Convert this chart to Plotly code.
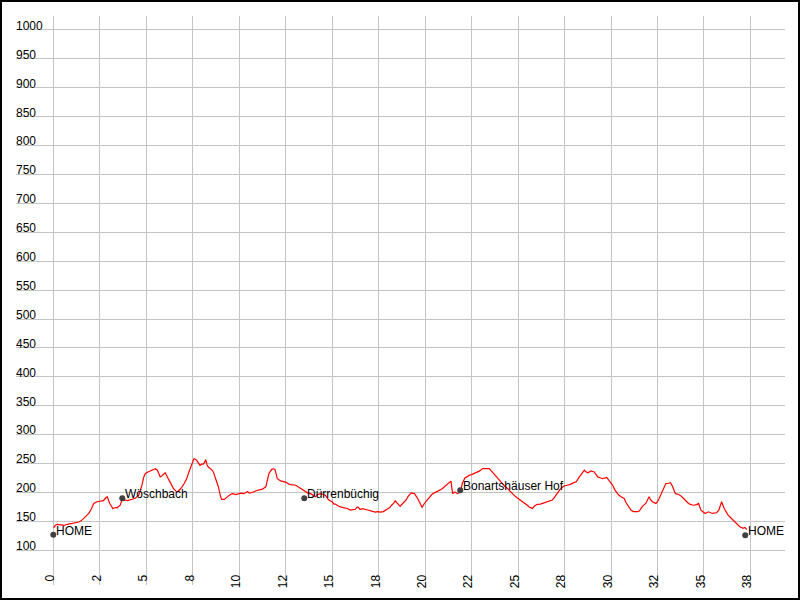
import plotly.graph_objects as go

# ---- data ----
dist_km = [0.0, 0.05, 0.1, 0.21, 0.4, 0.57, 0.75, 0.93, 1.15, 1.375, 1.5, 1.64, 1.8, 1.91, 2.05, 2.18, 2.35, 2.54, 2.7, 2.8,
           2.9, 3.04, 3.15, 3.21, 3.32, 3.43, 3.6, 3.7, 3.8, 3.88, 4.0, 4.14, 4.25, 4.41, 4.59, 4.68, 4.77, 4.86, 4.95, 5.07,
           5.2, 5.35, 5.48, 5.6, 5.75, 5.85, 6.02, 6.1, 6.25, 6.35, 6.46, 6.55, 6.64, 6.77, 6.9, 7.05, 7.18, 7.3, 7.45, 7.57,
           7.71, 7.8, 7.89, 7.98, 8.07, 8.15, 8.2, 8.27, 8.34, 8.5, 8.61, 8.75, 8.88, 9.0, 9.06, 9.2, 9.29, 9.46, 9.55, 9.64,
           9.82, 9.95, 10.09, 10.25, 10.45, 10.54, 10.7, 10.9, 11.1, 11.25, 11.43, 11.52, 11.6, 11.75, 11.85, 11.93, 12.05, 12.23, 12.37, 12.5,
           12.65, 12.77, 13.04, 13.2, 13.3, 13.45, 13.57, 13.7, 13.84, 14.0, 14.1, 14.2, 14.37, 14.5, 14.64, 14.75, 14.82, 15.0, 15.1, 15.18,
           15.3, 15.45, 15.6, 15.71, 15.85, 15.98, 16.1, 16.25, 16.32, 16.39, 16.5, 16.65, 16.8, 16.95, 17.05, 17.2, 17.32, 17.45, 17.59, 17.75,
           17.86, 18.0, 18.1, 18.2, 18.3, 18.39, 18.47, 18.54, 18.66, 18.71, 18.89, 19.0, 19.07, 19.25, 19.43, 19.55, 19.6, 19.75, 19.84, 19.96,
           20.1, 20.23, 20.35, 20.5, 20.77, 20.9, 21.04, 21.15, 21.3, 21.39, 21.48, 21.6, 21.75, 21.9, 22.0, 22.07, 22.14, 22.25, 22.38, 22.5,
           22.64, 22.8, 22.91, 23.0, 23.1, 23.3, 23.45, 23.6, 23.71, 23.9, 24.07, 24.25, 24.43, 24.6, 24.79, 24.95, 25.14, 25.3, 25.5, 25.6,
           25.77, 25.9, 26.04, 26.2, 26.3, 26.45, 26.57, 26.7, 26.84, 26.92, 27.02, 27.15, 27.25, 27.35, 27.46, 27.64, 27.82, 28.0, 28.13, 28.3,
           28.48, 28.57, 28.65, 28.75, 28.93, 29.1, 29.2, 29.29, 29.45, 29.55, 29.65, 29.77, 29.91, 30.09, 30.2, 30.27, 30.4, 30.54, 30.71, 30.8,
           30.89, 31.0, 31.07, 31.2, 31.3, 31.42, 31.52, 31.6, 31.7, 31.87, 31.95, 32.05, 32.12, 32.23, 32.41, 32.5, 32.59, 32.7, 32.77, 32.87,
           32.95, 33.1, 33.2, 33.32, 33.4, 33.46, 33.6, 33.73, 33.91, 34.05, 34.17, 34.3, 34.44, 34.6, 34.71, 34.78, 34.84, 35.06, 35.24, 35.45,
           35.68, 35.8, 35.95, 36.09, 36.2, 36.3, 36.48, 36.66, 36.8, 36.93, 37.05, 37.1, 37.2, 37.3]
elev_m = [140, 140, 143, 145, 144, 143, 145, 146, 147, 149, 151, 155, 160, 164, 172, 181, 184, 185, 186, 190,
          192.5, 181, 175, 172, 174, 173.5, 178, 188, 186, 187, 186, 187, 189, 190, 195, 203, 212.6, 226, 233, 235,
          237, 238, 241, 238.5, 227, 229, 234, 229, 221, 214, 207, 203, 201, 204, 208.6, 216, 224, 236, 250, 258.6,
          255.7, 250, 247, 249, 249, 253, 257, 248, 244, 240, 235.6, 222, 210, 192.5, 188, 188, 190.8, 195, 197, 198,
          196.5, 198, 199, 198, 201.7, 199, 200, 203, 204, 205.7, 209.8, 220, 232.8, 240, 241, 239.7, 224, 220, 219, 218,
          215, 213.7, 212.5, 209, 206.5, 203, 201, 199, 198, 195, 192.5, 196, 198, 197, 195, 190, 187, 184, 180, 180,
          177, 175, 174, 174, 172, 169.5, 170, 171, 174, 175, 170.6, 172, 170.6, 169, 168, 167, 166, 167, 166, 167,
          169.5, 172, 174, 178, 181, 185.6, 183, 181, 176, 178, 183.6, 188, 192.5, 199.4, 198, 193, 189.6, 180, 174, 181,
          187, 192.5, 196, 199.4, 203, 206, 209.8, 213, 218, 219.7, 198, 201, 198, 201, 215.5, 222, 225, 227, 230, 231,
          232.7, 235, 237, 239, 241.4, 241.5, 241.4, 236, 231.6, 225, 218, 212, 207, 201, 195, 191, 187, 183, 178, 175,
          172.5, 177, 179.5, 180, 181, 182, 184, 185, 187, 190, 195, 200, 205, 208, 211, 212.5, 214, 217, 218.4, 227,
          235.6, 238.5, 236, 234, 237.4, 235.6, 231, 227, 225, 224, 225, 226, 220, 212.6, 205, 201, 196, 192.5, 189.6, 183,
          178, 173, 169.5, 167, 166.6, 167, 168, 172, 176.4, 181, 186, 192.5, 188, 184, 181, 184, 189.6, 198, 204, 210,
          215.5, 216, 217, 209.8, 203, 198, 197, 195, 189.6, 185, 181, 179, 178, 179, 181, 175, 169.5, 163.8, 166.6, 163.8,
          165, 169.5, 183.9, 172.4, 166, 161, 155, 149.4, 145, 140.8, 139, 138, 139.6, 136]

poi_names = ["HOME", "Wöschbach", "Dürrenbüchig", "Bonartshäuser Hof", "HOME"]
poi_km = [0.0, 3.71, 13.5, 21.89, 37.22]
poi_elev = [127, 190, 190, 204, 126]

x_tick_vals = [0, 2.5, 5, 7.5, 10, 12.5, 15, 17.5, 20, 22.5, 25, 27.5, 30, 32.5, 35, 37.5]
x_tick_text = ["0", "2", "5", "8", "10", "12", "15", "18", "20", "22", "25", "28", "30", "32", "35", "38"]
y_tick_vals = list(range(100, 1001, 50))

FONT = "Liberation Sans, Arial, sans-serif"
GRID = "#c4c4c4"

fig = go.Figure()
fig.add_trace(go.Scatter(x=dist_km, y=elev_m, mode="lines",
                         line=dict(color="#ff0000", width=1.2), hoverinfo="skip", showlegend=False))
fig.add_trace(go.Scatter(x=poi_km, y=poi_elev, mode="markers",
                         marker=dict(color="#404040", size=6), showlegend=False, hoverinfo="skip"))

for n, xk, ye in zip(poi_names, poi_km, poi_elev):
    fig.add_annotation(x=xk, y=ye, text=n, showarrow=False, xanchor="left", yanchor="middle",
                       xshift=1, yshift=4, font=dict(family=FONT, size=12, color="#000000"))

fig.add_shape(type="rect", xref="paper", yref="paper",
              x0=-15 / 769, x1=783 / 769, y0=-14 / 569, y1=584 / 569,
              line=dict(color="#000000", width=2), fillcolor="rgba(0,0,0,0)", layer="above")

fig.update_layout(
    width=800, height=600,
    margin=dict(l=16, r=15, t=16, b=15, pad=0),
    paper_bgcolor="#ffffff", plot_bgcolor="#ffffff",
    font=dict(family=FONT, size=12, color="#000000"),
    showlegend=False,
    xaxis=dict(range=[-2.006, 39.36], tickvals=x_tick_vals, ticktext=x_tick_text,
               tickangle=-90, ticklabelposition="inside left", ticklabelshift=-3,
               showgrid=True, gridcolor=GRID, gridwidth=1,
               zeroline=False, showline=False, ticks="", fixedrange=True,
               tickfont=dict(family=FONT, size=12, color="#000000")),
    yaxis=dict(range=[40, 1024.2], tickvals=y_tick_vals, ticklabelposition="inside top",
               ticklabelshift=4, ticklabelstandoff=-3, ticklabeloverflow="allow",
               showgrid=True, gridcolor=GRID, gridwidth=1, zeroline=False, showline=False, ticks="",
               fixedrange=True, tickfont=dict(family=FONT, size=12, color="#000000")),
)

fig.write_html("out.html", config={"displayModeBar": False, "staticPlot": True},
               post_script="document.body.style.margin='0px';document.body.style.overflow='hidden';")
